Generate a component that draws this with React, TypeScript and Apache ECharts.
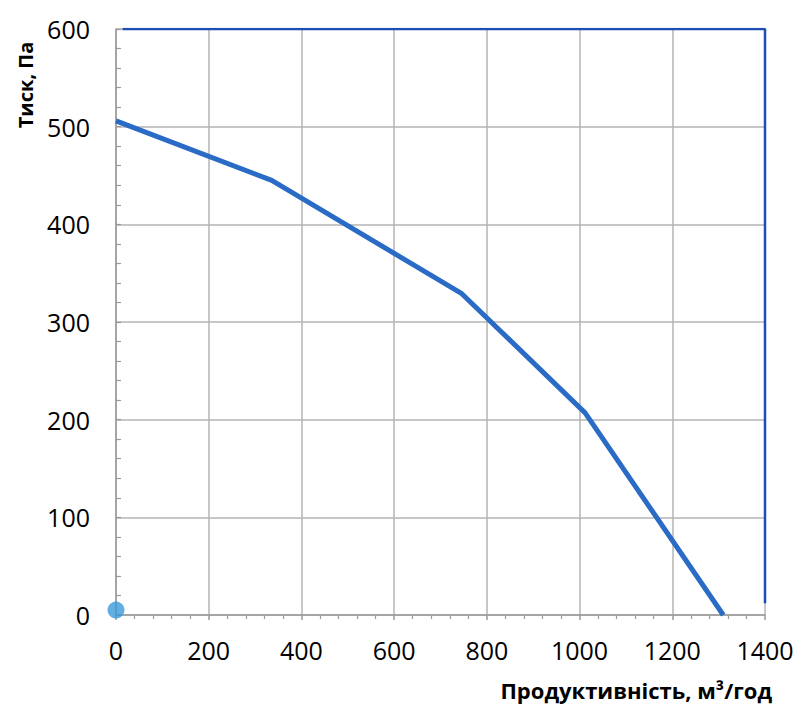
import React, { useEffect, useRef } from "react";
import * as echarts from "echarts";

const flowValues = [0, 336, 746, 1012, 1310];
const pressureValues = [506, 445, 329, 207, 0];
const frameX = [14, 1400, 1400];
const frameY = [600, 600, 12];
const pointValue = [0, 5];
const xTicks = [0, 200, 400, 600, 800, 1000, 1200, 1400];
const yTicks = [0, 100, 200, 300, 400, 500, 600];

export default function App() {
  const ref = useRef<HTMLDivElement>(null);
  useEffect(() => {
    if (!ref.current) return;
    const chart = echarts.init(ref.current, null, { renderer: "svg" });
    const curve = flowValues.map((x, i) => [x, pressureValues[i]]);
    const frame = frameX.map((x, i) => [x, frameY[i]]);
    const font = "'Open Sans', 'Liberation Sans', sans-serif";
    chart.setOption({
      animation: false,
      grid: { left: 116, right: 35, top: 29, bottom: 95, containLabel: false },
      xAxis: {
        type: "value",
        min: xTicks[0],
        max: xTicks[xTicks.length - 1],
        interval: 200,
        axisLine: { show: true, lineStyle: { color: "#9a9a9a", width: 1.5 } },
        axisTick: { show: true, length: 5, lineStyle: { color: "#9a9a9a", width: 1.5 } },
        minorTick: { show: true, splitNumber: 5, length: 4, lineStyle: { color: "#9a9a9a", width: 1.2 } },
        splitLine: { show: true, lineStyle: { color: "#b4b4b4", width: 1.5 } },
        axisLabel: { color: "#000", fontSize: 25, fontFamily: font, margin: 22, formatter: (v: number) => String(v) },
      },
      yAxis: {
        type: "value",
        min: yTicks[0],
        max: yTicks[yTicks.length - 1],
        interval: 100,
        axisLine: { show: true, lineStyle: { color: "#9a9a9a", width: 1.5 } },
        axisTick: { show: true, inside: true, length: 5, lineStyle: { color: "#9a9a9a", width: 1.2 } },
        minorTick: { show: true, splitNumber: 5, length: 5, lineStyle: { color: "#9a9a9a", width: 1.2 } },
        splitLine: { show: true, lineStyle: { color: "#b4b4b4", width: 1.5 } },
        axisLabel: { color: "#000", fontSize: 25, fontFamily: font, margin: 26, formatter: (v: number) => String(v) },
      },
      series: [
        {
          type: "line",
          data: frame,
          showSymbol: false,
          symbol: "none",
          lineStyle: { color: "#1d4db5", width: 2.5 },
          z: 3,
        },
        {
          type: "line",
          data: curve,
          showSymbol: false,
          symbol: "none",
          clip: false,
          lineStyle: { color: "#2a6bc6", width: 5 },
          z: 4,
        },
        {
          type: "scatter",
          data: [pointValue],
          symbolSize: 17,
          clip: false,
          itemStyle: { color: "#3a9ad8" },
          z: 5,
        },
      ],
      graphic: [
        {
          type: "text",
          x: 25,
          y: 85,
          rotation: Math.PI / 2,
          style: {
            text: "Тиск, Па",
            font: `bold 20px ${font}`,
            fill: "#000",
            align: "center",
            verticalAlign: "middle",
          },
        },
        {
          type: "text",
          x: 772,
          y: 690,
          style: {
            text: "Продуктивність, м³/год",
            font: `bold 22px ${font}`,
            fill: "#000",
            align: "right",
            verticalAlign: "middle",
          },
        },
      ],
    });
    return () => chart.dispose();
  }, []);
  return <div ref={ref} style={{ width: 800, height: 710, position: "absolute", left: 0, top: 0 }} />;
}
